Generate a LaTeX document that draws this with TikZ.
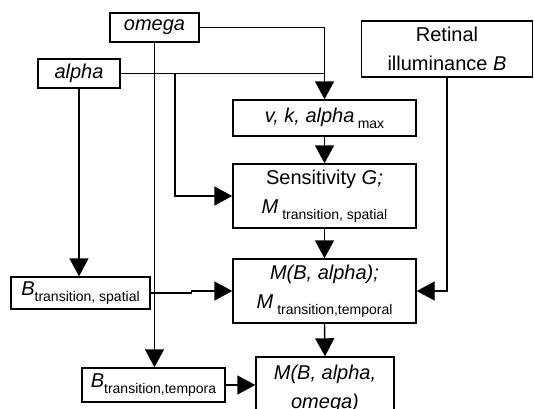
\documentclass[tikz,border=0pt]{standalone}
\usepackage{fontspec}
\setmainfont{Liberation Sans}
\usetikzlibrary{arrows.meta, positioning}

\newcommand{\lowtxt}[1]{\raisebox{-6pt}{\fontsize{14}{14}\selectfont\upshape #1}}
\tikzset{
	blk/.style={draw, line width=1.4pt, inner sep=0pt, align=center, font=\fontsize{20}{29}\selectfont},
	wire/.style={line width=1.4pt},
	arr/.style={wire, -{Triangle[length=18pt, width=19pt]}},
}

\begin{document}
\begin{tikzpicture}[x=1pt, y=-1pt]
			\useasboundingbox (0, 0) rectangle (534, 408);
			\clip (0, 0) rectangle (534, 408);
			% Boxes:
			\node[blk, minimum width=89pt, minimum height=29pt] (omega) at (154.5, 27.5) {\textit{omega}};
			\node[blk, minimum width=82pt, minimum height=29pt] (alpha) at (79, 73.5) {\textit{alpha}};
			\node[blk, minimum width=171pt, minimum height=56pt] (retinal) at (447, 49) {Retinal\\illuminance \textit{B}};
			\node[blk, minimum width=183pt, minimum height=36pt] (vk) at (324.5, 118) {\textit{v, k, alpha}\,\lowtxt{max}};
			\node[blk, minimum width=183pt, minimum height=64pt] (sens) at (324.5, 196) {Sensitivity \textit{G;}\\\textit{M}\hspace{4pt}\lowtxt{transition, spatial}};
			\node[blk, minimum width=183pt, minimum height=64pt] (mba) at (324.5, 291) {\textit{M(B, alpha);}\\\textit{M}\hspace{4pt}\lowtxt{transition,temporal}};
			\node[blk, minimum width=138pt, minimum height=64pt] (mbao) at (325, 389) {\textit{M(B, alpha,}\\\textit{omega)}};
			\node[blk, minimum width=139pt, minimum height=32pt] (bsp) at (80.5, 293) {\textit{B}\lowtxt{transition, spatial}};
			\node[blk, minimum width=143pt, minimum height=34pt] (btp) at (153.5, 385) {\textit{B}\lowtxt{transition,tempora}};
			\coordinate (abranch) at (175, 73.5);
			% Wires:
			\draw[arr] (omega.east) -| (vk.north);
			\draw[wire] (alpha.east) -- (alpha.east -| vk.north);
			\draw[arr] (abranch) |- (sens.west);
			\draw[arr] (alpha.south) -- (alpha.south |- bsp.north);
			\draw[arr] (omega.south) -- (omega.south |- btp.north);
			\draw[arr] (bsp.east) -- ++(41, 0) |- (mba.west);
			\draw[arr] (btp.east) -- (btp.east -| mbao.west);
			\draw[arr] (retinal.south) |- (mba.east);
			\draw[arr] (vk.south) -- (sens.north);
			\draw[arr] (sens.south) -- (mba.north);
			\draw[arr] (mba.south) -- (mbao.north);
		\end{tikzpicture}
\end{document}
